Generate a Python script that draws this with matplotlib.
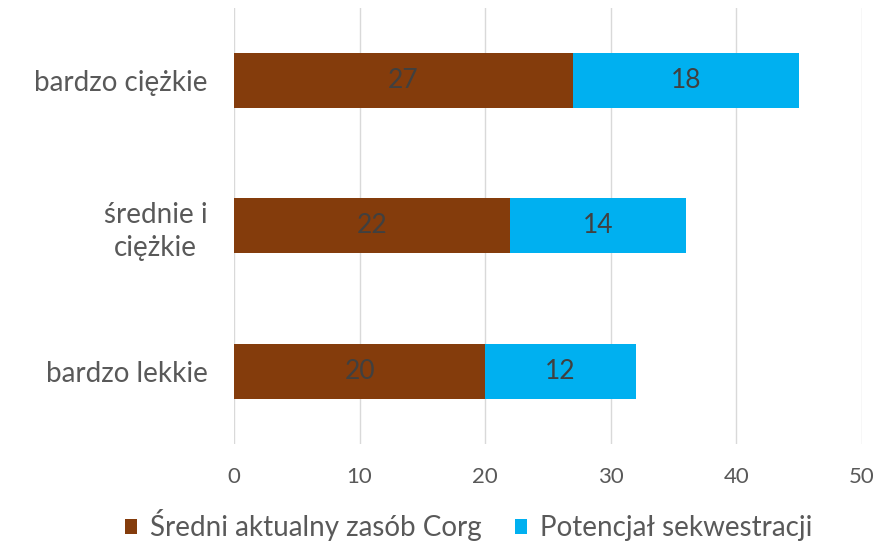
import matplotlib
matplotlib.use("Agg")
import matplotlib.pyplot as plt

categories = ["bardzo lekkie", "średnie i\nciężkie", "bardzo ciężkie"]
current_stock = [20, 22, 27]
sequestration = [12, 14, 18]
series_names = ["Średni aktualny zasób Corg", "Potencjał sekwestracji"]
x_ticks = [0, 10, 20, 30, 40, 50]

plt.rcParams["font.family"] = ["Lato", "DejaVu Sans"]

BROWN = "#843C0C"
BLUE = "#00B0F0"
TEXT = "#595959"

fig = plt.figure(figsize=(8.84, 5.48), dpi=100)
ax = fig.add_axes([0.2647, 0.19, 0.7103, 0.796])

y = range(len(categories))
h = 0.38
b1 = ax.barh(y, current_stock, height=h, color=BROWN, label=series_names[0], zorder=2)
b2 = ax.barh(y, sequestration, left=current_stock, height=h, color=BLUE,
             label=series_names[1], zorder=2)

for bars, vals in ((b1, current_stock), (b2, sequestration)):
    for bar, v in zip(bars, vals):
        ax.text(bar.get_x() + bar.get_width() / 2, bar.get_y() + bar.get_height() / 2,
                f"{v}", ha="center", va="center", color="#404040", fontsize=19, zorder=3)

ax.set_xlim(0, 50)
ax.set_ylim(-0.5, 2.5)
ax.set_xticks(x_ticks)
ax.set_yticks(list(y))
ax.set_yticklabels(categories, fontsize=20, color=TEXT, linespacing=1.3)
ax.tick_params(axis="x", labelsize=16, colors=TEXT, length=0, pad=17)
ax.tick_params(axis="y", length=0, pad=19)
for lab in ax.get_yticklabels():
    lab.set_multialignment("center")
ax.grid(axis="x", color="#D9D9D9", linewidth=1, zorder=0)
for s in ax.spines.values():
    s.set_visible(False)

fig.legend(handles=[b1, b2], labels=series_names, loc="center", bbox_to_anchor=(0.53, 0.042),
           ncol=2, frameon=False, fontsize=20, labelcolor=TEXT, handlelength=0.45,
           handleheight=0.45, handletextpad=0.45, columnspacing=1.2, borderpad=0)

fig.savefig("out.png", dpi=100)
